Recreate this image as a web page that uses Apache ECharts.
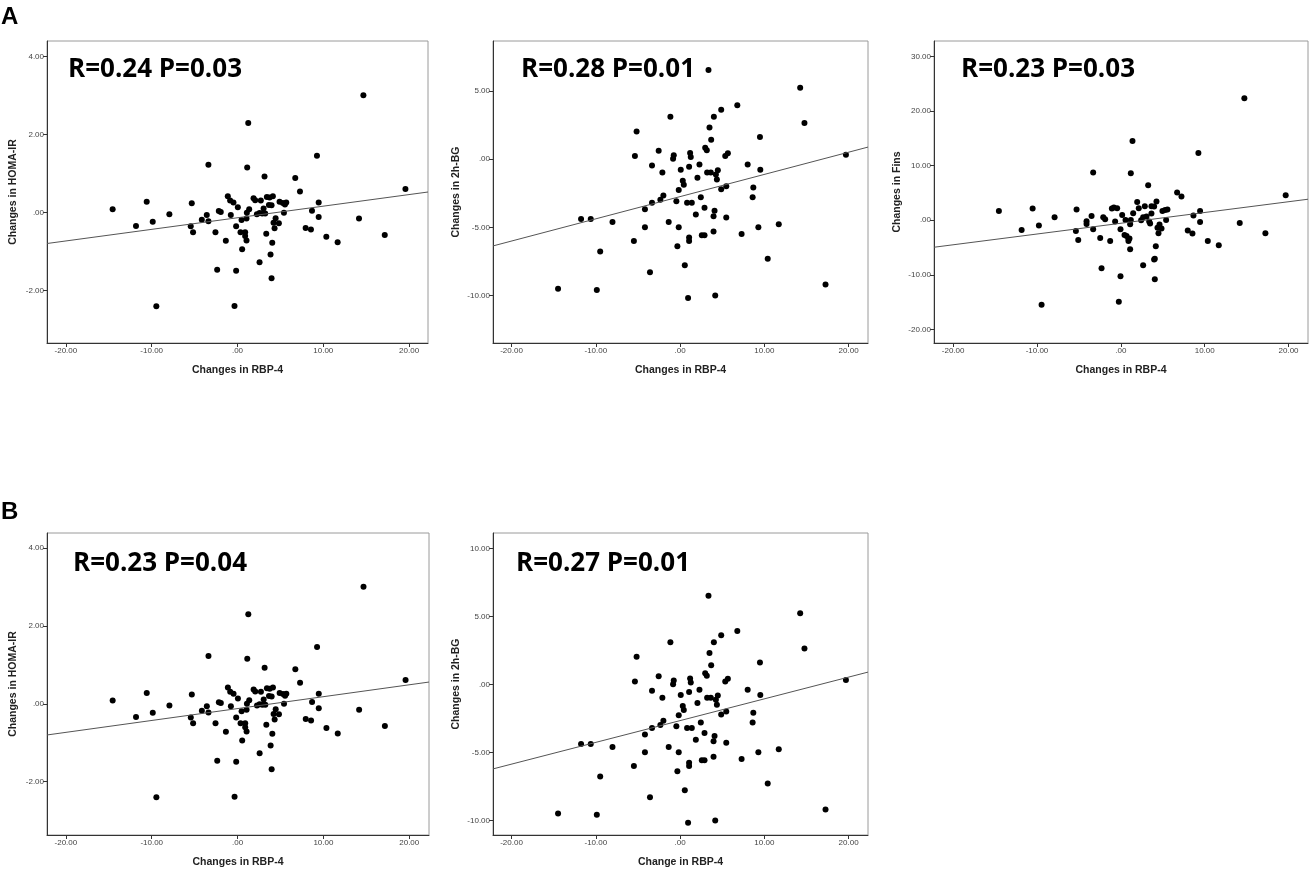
<!DOCTYPE html>
<html lang="en">
<head>
    <meta charset="UTF-8">
    <title>RBP-4 correlations</title>
    <style>
        html,body{margin:0;padding:0;background:#fff;}
        #mychart{width:1309px;height:869px;}
    </style>
</head>
<body>
    <div id="mychart"></div>
    <script src="https://cdn.jsdelivr.net/npm/echarts@6/dist/echarts.min.js"></script>
    <script>
        // HOMA-IR vs RBP-4 (panel A left, B left)
        var homaX=[-14.55,-11.83,-10.58,-9.88,-9.46,-7.94,-5.45,-5.33,-5.18,-4.16,-3.58,-3.39,-3.39,-2.57,-2.37,-2.18,-1.95,-1.36,-1.13,-0.86,
                   -0.78,-0.47,-0.35,-0.16,-0.16,0.04,0.35,0.47,0.54,0.89,0.89,1.05,1.05,1.09,1.13,1.25,1.36,1.87,2.06,2.26,
                   2.57,2.57,2.72,2.88,3.04,3.15,3.23,3.35,3.42,3.66,3.74,3.85,3.97,3.97,4.05,4.12,4.20,4.32,4.44,4.82,
                   4.90,5.29,5.41,5.53,5.68,6.73,7.28,7.94,8.56,8.68,9.26,9.46,9.46,10.35,11.67,14.16,14.67,17.16,19.57]
        var homaY=[0.085,-0.34,0.28,-0.23,-2.40,-0.04,-0.35,0.24,-0.50,-0.18,-0.06,1.23,-0.22,-0.50,-1.46,0.04,0.02,-0.72,0.42,0.31,
                   -0.06,0.26,-2.39,-0.35,-1.49,0.14,-0.50,-0.19,-0.94,-0.50,-0.60,-0.71,-0.15,0.00,1.16,2.30,0.09,0.37,0.32,-0.04,
                   -1.27,-0.01,0.31,-0.02,0.11,0.93,-0.02,-0.54,0.40,0.20,0.39,-1.07,-1.68,0.19,-0.77,0.42,-0.26,-0.40,-0.14,-0.27,
                   0.28,0.25,0.00,0.21,0.26,0.89,0.54,-0.39,-0.43,0.05,1.46,-0.11,0.26,-0.62,-0.76,-0.15,3.01,-0.57,0.61]
        // 2h-BG vs RBP-4 (panel A middle, B right)
        var bgX=[-14.48,-11.75,-10.60,-9.88,-9.48,-8.02,-5.48,-5.36,-5.16,-4.17,-4.17,-3.57,-3.33,-3.33,-2.54,-2.34,-2.10,-1.98,-1.35,-1.15,
                 -0.83,-0.75,-0.44,-0.32,-0.16,-0.16,0.08,0.32,0.44,0.56,0.83,0.95,1.07,1.07,1.07,1.19,1.27,1.39,1.87,2.06,
                 2.30,2.46,2.58,2.90,2.90,2.98,3.17,3.21,3.49,3.37,3.65,3.69,3.97,3.97,4.01,4.09,4.17,4.25,4.37,4.48,
                 4.88,4.88,5.36,5.48,5.48,5.67,6.79,7.30,8.02,8.61,8.69,9.29,9.48,9.52,10.40,11.71,14.25,14.76,17.26,19.68]
        var bgY=[-9.49,-4.38,-4.38,-9.58,-6.77,-4.60,-5.99,0.22,2.03,-3.67,-4.99,-8.29,-0.46,-3.20,0.61,-2.98,-0.98,-2.67,-4.60,3.11,
                 0.02,0.29,-3.08,-6.38,-2.27,-4.99,-0.78,-1.59,-1.88,-7.78,-3.20,-10.17,-0.56,-5.75,-5.99,0.44,0.15,-3.20,-4.06,-1.37,
                 -0.39,-2.79,-5.57,-5.57,-3.57,0.83,0.64,-0.98,2.32,6.53,-0.98,1.42,-4.18,-5.31,3.11,-3.79,-10.00,-1.12,-1.49,-0.81,
                 3.62,-2.20,0.22,-1.98,-4.28,0.42,3.94,-5.48,-0.39,-2.79,-2.08,-4.99,1.61,-0.78,-7.29,-4.77,5.23,2.64,-9.19,0.32]
        // Fins vs RBP-4 (panel A right)
        var finsX=[-14.54,-11.83,-10.52,-9.77,-9.45,-7.90,-5.36,-5.28,-5.08,-4.09,-4.09,-3.49,-3.30,-3.30,-2.46,-2.30,-2.10,-1.87,-1.27,-1.07,
                   -0.83,-0.68,-0.44,-0.24,-0.04,-0.04,0.16,0.44,0.56,0.68,0.91,0.91,1.03,1.11,1.11,1.19,1.19,1.39,1.47,1.95,
                   2.14,2.42,2.66,2.66,2.86,3.06,3.26,3.38,3.49,3.65,3.65,3.97,3.97,4.05,4.05,4.17,4.25,4.37,4.49,4.61,
                   4.85,4.96,5.28,5.40,5.56,6.71,7.23,7.98,8.54,8.66,9.25,9.45,9.45,10.37,11.68,14.18,14.73,17.24,19.66]
        var finsY=[1.71,-1.77,2.14,-0.98,-15.51,0.55,-1.95,1.95,-3.60,-0.18,-0.67,0.79,8.73,-1.65,-3.24,-8.79,0.55,0.18,-3.79,2.14,
                   2.32,-0.24,2.20,-14.96,-1.65,-10.26,0.98,-2.69,0.06,-2.87,-3.79,-3.42,-3.36,-5.31,-0.73,8.61,0.06,14.53,1.28,3.36,
                   2.20,0.00,-8.24,0.55,2.56,0.67,6.41,-0.24,-0.61,1.22,2.56,2.50,-7.21,-7.08,-10.81,-4.76,3.42,-1.40,-2.38,-0.79,
                   -1.53,1.71,1.89,0.06,1.95,5.07,4.34,-1.89,-2.44,0.85,12.34,1.71,-0.31,-3.79,-4.58,-0.49,22.35,-2.38,4.58]
        // fitted lines, ends at the frame edges
        var fitA1X=[-22.2,22.2], fitA1Y=[-0.79,0.53]
        var fitA2X=[-22.2,22.3], fitA2Y=[-6.36,0.88]
        var fitA3X=[-22.28,22.32], fitA3Y=[-4.95,3.85]
        var fitB1X=[-22.2,22.3], fitB1Y=[-0.80,0.56]
        var fitB2X=[-22.2,22.3], fitB2Y=[-6.21,0.91]
        var xTicks=[-20,-10,0,10,20]
        var homaTicks=[-2,0,2,4]
        var bgTicksA=[-10,-5,0,5]
        var bgTicksB=[-10,-5,0,5,10]
        var finsTicks=[-20,-10,0,10,20,30]
        var statTexts=['R=0.24 P=0.03','R=0.28 P=0.01','R=0.23 P=0.03','R=0.23 P=0.04','R=0.27 P=0.01']

        var myChart=echarts.init(document.getElementById('mychart'))

        function zip(xs,ys){
            let out=[]
            for(let i=0;i<xs.length;i++){
                out.push([xs[i],ys[i]])
            }
            return out
        }
        function fmt(v){
            return v===0?'.00':v.toFixed(2)
        }

        var grids=[],xAxes=[],yAxes=[],series=[]
        function addPanel(box,xs,ys,fx,fy,xr,yr,yTicks,xName,yName,yGap){
            let idx=grids.length
            grids.push({left:box[0],top:box[1],width:box[2],height:box[3],show:true,borderColor:'#9a9a9a',borderWidth:1,backgroundColor:'#fff'})
            xAxes.push({
                gridIndex:idx,type:'value',min:xr[0],max:xr[1],
                name:xName,nameLocation:'middle',nameGap:22,
                nameTextStyle:{fontFamily:'Liberation Sans',fontWeight:'bold',fontSize:10.5,color:'#222'},
                axisLine:{show:true,onZero:false,lineStyle:{color:'#333',width:1}},
                axisTick:{show:true,length:4,customValues:xTicks,lineStyle:{color:'#333'}},
                axisLabel:{customValues:xTicks,formatter:fmt,fontFamily:'Liberation Sans',fontSize:8,color:'#444',margin:4},
                splitLine:{show:false}
            })
            yAxes.push({
                gridIndex:idx,type:'value',min:yr[0],max:yr[1],
                name:yName,nameLocation:'middle',nameGap:yGap,
                nameTextStyle:{fontFamily:'Liberation Sans',fontWeight:'bold',fontSize:10.5,color:'#222'},
                axisLine:{show:true,onZero:false,lineStyle:{color:'#333',width:1}},
                axisTick:{show:true,length:4,customValues:yTicks,lineStyle:{color:'#333'}},
                axisLabel:{customValues:yTicks,formatter:fmt,fontFamily:'Liberation Sans',fontSize:8,color:'#444',margin:3},
                splitLine:{show:false}
            })
            series.push({
                type:'line',xAxisIndex:idx,yAxisIndex:idx,data:zip(fx,fy),
                showSymbol:false,silent:true,lineStyle:{color:'#555',width:1}
            })
            series.push({
                type:'scatter',xAxisIndex:idx,yAxisIndex:idx,data:zip(xs,ys),
                symbolSize:6,itemStyle:{color:'#000',opacity:1}
            })
        }

        addPanel([47,41,381,302],homaX,homaY,fitA1X,fitA1Y,[-22.2,22.2],[-3.34,4.4],homaTicks,'Changes in RBP-4','Changes in HOMA-IR',28)
        addPanel([493,41,375,302],bgX,bgY,fitA2X,fitA2Y,[-22.2,22.3],[-13.47,8.65],bgTicksA,'Changes in RBP-4','Changes in 2h-BG',31)
        addPanel([934,41,374,302],finsX,finsY,fitA3X,fitA3Y,[-22.28,22.32],[-22.5,32.85],finsTicks,'Changes in RBP-4','Changes in Fins',31)
        addPanel([47,533,382,304],homaX,homaY,fitB1X,fitB1Y,[-22.2,22.3],[-3.37,4.39],homaTicks,'Changes in RBP-4','Changes in HOMA-IR',28)
        addPanel([493,533,375,302],bgX,bgY,fitB2X,fitB2Y,[-22.2,22.3],[-11.07,11.14],bgTicksB,'Change in RBP-4','Changes in 2h-BG',31)

        var statPos=[[68,67],[521,67],[961,67],[73,561],[516,561]]
        var graphics=[]
        statTexts.forEach((t,i)=>{
            graphics.push({type:'text',left:statPos[i][0],top:statPos[i][1]-10,z:100,
                style:{text:t,fontFamily:'Open Sans',fontWeight:'bold',fontSize:26,fill:'#000'}})
        })
        graphics.push({type:'text',left:1,top:5,style:{text:'A',fontFamily:'Liberation Sans',fontWeight:'bold',fontSize:24,fill:'#000'}})
        graphics.push({type:'text',left:1,top:500,style:{text:'B',fontFamily:'Liberation Sans',fontWeight:'bold',fontSize:24,fill:'#000'}})

        myChart.setOption({
            animation:false,
            grid:grids,
            xAxis:xAxes,
            yAxis:yAxes,
            series:series,
            graphic:graphics
        })
    </script>
</body>
</html>
